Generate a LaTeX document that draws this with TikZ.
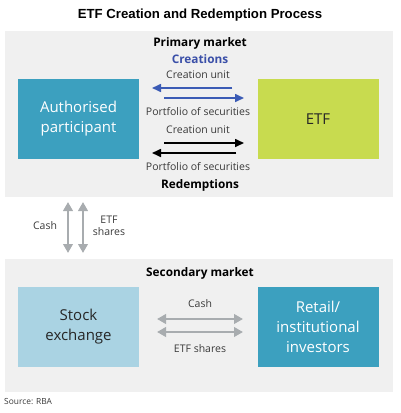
\documentclass[tikz,border=0pt]{standalone}
\usepackage{fontspec}
\setmainfont{Open Sans}
\newfontfamily\titlefont{Liberation Sans}
\usetikzlibrary{arrows.meta}
\definecolor{panelgrey}{HTML}{F0F0F0}
\definecolor{teal}{HTML}{3CA0BF}
\definecolor{lime}{HTML}{C8DB4F}
\definecolor{lightblue}{HTML}{AAD3E3}
\definecolor{arrowblue}{HTML}{3B5BB5}
\definecolor{creblue}{HTML}{3A4FA8}
\definecolor{arrowgrey}{HTML}{A8ACAF}
\definecolor{textgrey}{HTML}{3A3A3A}
\tikzset{
  panel/.style={fill=panelgrey, draw=none},
  boxstyle/.style={draw=none, minimum width=121pt, minimum height=80pt, inner sep=0pt, align=center, font=\fontsize{15}{20}\selectfont},
  lbl/.style={inner sep=0pt, font=\fontsize{10.5}{12.5}\selectfont, text=textgrey, align=center},
  hdr/.style={inner sep=0pt, font=\bfseries\fontsize{11.8}{13}\selectfont},
  thinarrow/.style={line width=1.6pt, -{Triangle[width=8pt,length=9pt]}},
  greyarrow/.style={line width=2.4pt, draw=arrowgrey, {Triangle[width=9.5pt,length=9pt]}-{Triangle[width=9.5pt,length=9pt]}}
}
\begin{document}
\begin{tikzpicture}[x=1pt,y=-1pt]
\useasboundingbox (0,0) rectangle (400,413);
% title
\node[inner sep=0pt, font=\titlefont\bfseries\fontsize{13.2}{15}\selectfont] (title) at (200,15) {ETF Creation and Redemption Process};
% panels
\fill[panel] (5,31) rectangle (393,197);
\fill[panel] (5,259) rectangle (393,392);
\node[hdr] (prim) at (200,43) {Primary market};
\node[hdr, text=creblue] (cre) at (200,59) {Creations};
\node[hdr] (red) at (200,185) {Redemptions};
\node[hdr] (sec) at (200,273) {Secondary market};
% boxes
\node[boxstyle, fill=teal, text=white] (ap) at (78.5,119) {Authorised\\participant};
\node[boxstyle, fill=lime, text=black!85] (etf) at (318,119) {ETF};
\node[boxstyle, fill=lightblue, text=black!85] (se) at (78.5,327) {Stock\\exchange};
\node[boxstyle, fill=teal, text=white] (ri) at (318,327) {Retail/\\institutional\\investors};
% primary labels
\node[lbl] (cu1) at (198,75) {Creation unit};
\node[lbl] (pf1) at (198,112) {Portfolio of securities};
\node[lbl] (cu2) at (198,130) {Creation unit};
\node[lbl] (pf2) at (198,167) {Portfolio of securities};
% primary arrows
\coordinate (b1s) at (232,88);  \coordinate (b1e) at (152,88);
\coordinate (b2s) at (164,98);  \coordinate (b2e) at (244,98);
\coordinate (k1s) at (164,143); \coordinate (k1e) at (244,143);
\coordinate (k2s) at (236,153); \coordinate (k2e) at (152,153);
\draw[thinarrow, draw=arrowblue, fill=arrowblue] (b1s) -- (b1e);
\draw[thinarrow, draw=arrowblue, fill=arrowblue] (b2s) -- (b2e);
\draw[thinarrow, draw=black, fill=black] (k1s) -- (k1e);
\draw[thinarrow, draw=black, fill=black] (k2s) -- (k2e);
% vertical arrows
\coordinate (v1t) at (68,202); \coordinate (v1b) at (68,253);
\coordinate (v2t) at (83,202); \coordinate (v2b) at (83,253);
\draw[greyarrow] (v1t) -- (v1b);
\draw[greyarrow] (v2t) -- (v2b);
\node[lbl] (cashv) at (45,226) {Cash};
\node[lbl] (etfv) at (109,226) {ETF\\[-1pt]shares};
% secondary arrows
\coordinate (h1l) at (157,319); \coordinate (h1r) at (243,319);
\coordinate (h2l) at (157,332); \coordinate (h2r) at (243,332);
\draw[greyarrow] (h1l) -- (h1r);
\draw[greyarrow] (h2l) -- (h2r);
\node[lbl] (cashh) at (200,304) {Cash};
\node[lbl] (etfh) at (200,349) {ETF shares};
% source
\node[inner sep=0pt, anchor=west, font=\fontsize{8.4}{10}\selectfont, text=textgrey] (src) at (4,402) {Source: RBA};
\end{tikzpicture}
\end{document}
